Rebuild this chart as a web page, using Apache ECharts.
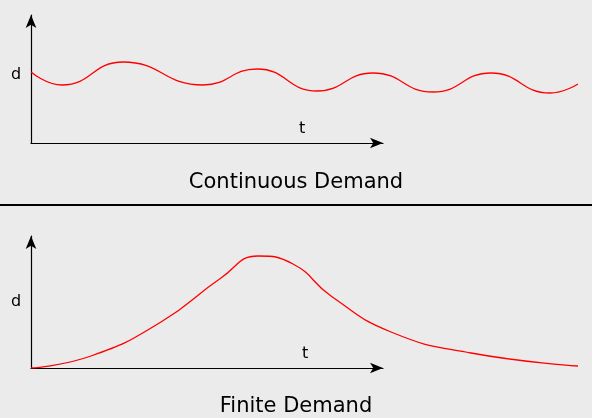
<!DOCTYPE html>
<html><head><meta charset="utf-8">
<script src="https://cdn.jsdelivr.net/npm/echarts@6/dist/echarts.min.js"></script>
<style>html,body{margin:0;background:#ebebeb}#c{width:592px;height:418px}</style>
</head><body><div id="c"></div>
<script>
// t position (px from y axis) and demand height above the t axis
var contT = [0, 31, 92, 172, 226, 286, 342, 402, 460, 519, 547];
var contD = [71, 58, 81, 58, 74, 52, 70, 51, 70, 50, 59];
var finT = [0, 60, 130, 190, 227, 262, 300, 360, 440, 547];
var finD = [0, 12, 46, 90, 112, 104, 72, 36, 15, 2];

function pairs(xs, ys) { return xs.map(function (x, i) { return [x, ys[i]]; }); }

var font = 'DejaVu Sans';
var axisLine = { show: true, symbol: ['none', 'arrow'], symbolSize: [8, 13], lineStyle: { color: '#000', width: 1.2 } };
function axis(grid, max, line) {
  return {
    type: 'value', gridIndex: grid, min: 0, max: max,
    axisLine: line ? axisLine : { show: false },
    axisTick: { show: false }, axisLabel: { show: false }, splitLine: { show: false }
  };
}
function label(text, x, y) {
  return { type: 'text', left: x, top: y, style: { text: text, font: '16px "DejaVu Sans"', fill: '#000' } };
}

var chart = echarts.init(document.getElementById('c'));
chart.setOption({
  backgroundColor: '#ebebeb',
  animation: false,
  title: [
    { text: 'Continuous Demand', left: 'center', top: 167, textStyle: { fontFamily: font, fontSize: 21, fontWeight: 'normal', color: '#000' } },
    { text: 'Finite Demand', left: 'center', top: 391, textStyle: { fontFamily: font, fontSize: 21, fontWeight: 'normal', color: '#000' } }
  ],
  graphic: [
    { type: 'line', shape: { x1: 0, y1: 205, x2: 592, y2: 205 }, style: { stroke: '#000', lineWidth: 2 } },
    label('d', 11, 67), label('t', 299, 121), label('d', 11, 294), label('t', 302, 346)
  ],
  grid: [
    { left: 31, top: 15, width: 352, height: 128 },
    { left: 31, top: 15, width: 547, height: 128 },
    { left: 31, top: 236, width: 352, height: 132 },
    { left: 31, top: 236, width: 547, height: 132 }
  ],
  xAxis: [axis(0, 352, true), axis(1, 547, false), axis(2, 352, true), axis(3, 547, false)],
  yAxis: [axis(0, 128, true), axis(1, 128, false), axis(2, 132, true), axis(3, 132, false)],
  series: [
    { type: 'line', xAxisIndex: 1, yAxisIndex: 1, smooth: 0.5, symbol: 'none', data: pairs(contT, contD), lineStyle: { color: '#ff0000', width: 1.3 } },
    { type: 'line', xAxisIndex: 3, yAxisIndex: 3, smooth: 0.5, symbol: 'none', data: pairs(finT, finD), lineStyle: { color: '#ff0000', width: 1.3 } }
  ]
});
</script></body></html>
